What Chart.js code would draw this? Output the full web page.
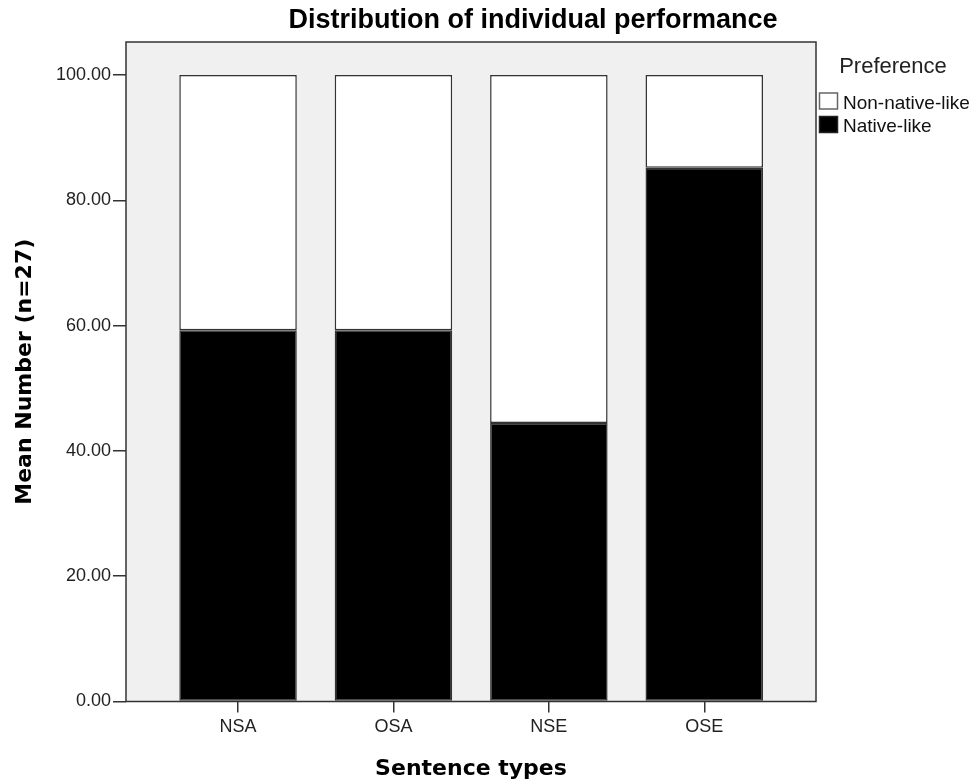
<!DOCTYPE html>
<html>
<head>
<meta charset="utf-8">
<script src="https://cdn.jsdelivr.net/npm/chart.js@4/dist/chart.umd.min.js"></script>
<style>
html,body{margin:0;padding:0;background:#fff;}
#wrap{width:971px;height:784px;position:relative;}
</style>
</head>
<body>
<div id="wrap"><canvas id="c"></canvas></div>
<script>
const categories = ['NSA', 'OSA', 'NSE', 'OSE'];
const nativeLike = [59.26, 59.26, 44.44, 85.19];
const nonNativeLike = [40.74, 40.74, 55.56, 14.81];
const yTicks = [0, 20, 40, 60, 80, 100];
const seriesNames = ['Native-like', 'Non-native-like'];
const chartTitle = 'Distribution of individual performance';
const legendTitle = 'Preference';
const xTitle = 'Sentence types';
const yTitle = 'Mean Number (n=27)';

const toPoints = arr => arr.map((v, i) => ({x: i + 1, y: v}));

const framePlugin = {
  id: 'frame',
  beforeDatasetsDraw(chart) {
    const {ctx, chartArea: a} = chart;
    ctx.save();
    ctx.fillStyle = '#f0f0f0';
    ctx.fillRect(a.left, a.top, a.right - a.left, a.bottom - a.top);
    ctx.restore();
  },
  afterDatasetsDraw(chart) {
    const {ctx, chartArea: a} = chart;
    ctx.save();
    ctx.strokeStyle = '#333';
    ctx.lineWidth = 1.5;
    ctx.strokeRect(a.left, a.top, a.right - a.left, a.bottom - a.top);
    ctx.restore();
  },
  afterDraw(chart) {
    const {ctx} = chart;
    ctx.save();
    ctx.fillStyle = '#000';
    ctx.font = 'bold 27px "Liberation Sans", Arial, sans-serif';
    ctx.textAlign = 'center';
    ctx.textBaseline = 'alphabetic';
    ctx.fillText(chartTitle, 533, 28);
    ctx.font = '22px "Liberation Sans", Arial, sans-serif';
    ctx.fillStyle = '#222';
    ctx.fillText(legendTitle, 893, 73);
    ctx.textAlign = 'left';
    ctx.font = '19px "Liberation Sans", Arial, sans-serif';
    const items = [
      {label: seriesNames[1], fill: '#ffffff', stroke: '#666', y: 93},
      {label: seriesNames[0], fill: '#000000', stroke: '#222', y: 116.5}
    ];
    items.forEach(it => {
      ctx.fillStyle = it.fill;
      ctx.fillRect(819.5, it.y, 18, 16);
      ctx.strokeStyle = it.stroke;
      ctx.lineWidth = 1.5;
      ctx.strokeRect(819.5, it.y, 18, 16);
      ctx.fillStyle = '#111';
      ctx.fillText(it.label, 843, it.y + 15.5);
    });
    ctx.restore();
  }
};

new Chart(document.getElementById('c'), {
  type: 'bar',
  data: {
    datasets: [
      {
        label: seriesNames[0],
        data: toPoints(nativeLike),
        backgroundColor: '#000000',
        borderColor: '#333333',
        borderWidth: 1.5,
        borderSkipped: false
      },
      {
        label: seriesNames[1],
        data: toPoints(nonNativeLike),
        backgroundColor: '#ffffff',
        borderColor: '#333333',
        borderWidth: 1.5,
        borderSkipped: false
      }
    ]
  },
  options: {
    responsive: true,
    maintainAspectRatio: false,
    animation: false,
    layout: {padding: {top: 42, right: 155, bottom: 0, left: 0}},
    datasets: {bar: {barPercentage: 0.756, categoryPercentage: 1}},
    plugins: {
      legend: {display: false},
      title: {display: false},
      tooltip: {enabled: false}
    },
    scales: {
      x: {
        type: 'linear',
        stacked: true,
        offset: false,
        min: 0.279,
        max: 4.719,
        afterFit(s) { s.height = 82.5; },
        afterBuildTicks(s) { s.ticks = categories.map((c, i) => ({value: i + 1})); },
        ticks: {
          color: '#222',
          padding: 4,
          maxRotation: 0,
          autoSkip: false,
          font: {family: '"Liberation Sans", Arial, sans-serif', size: 18},
          callback: v => categories[Math.round(v) - 1]
        },
        grid: {offset: false, drawOnChartArea: false, drawTicks: true, tickLength: 11, color: '#333', lineWidth: 1.5},
        border: {display: false},
        title: {
          display: true,
          text: xTitle,
          color: '#000',
          font: {family: '"DejaVu Sans", sans-serif', size: 22, weight: 'bold'},
          padding: {top: 0, bottom: 2}
        }
      },
      y: {
        stacked: true,
        min: 0,
        max: 105.27,
        afterFit(s) { s.width = 126; },
        afterBuildTicks(s) { s.ticks = yTicks.map(v => ({value: v})); },
        ticks: {
          color: '#222',
          padding: 2,
          font: {family: '"Liberation Sans", Arial, sans-serif', size: 18},
          callback: v => Number(v).toFixed(2)
        },
        grid: {drawOnChartArea: false, drawTicks: true, tickLength: 13, color: '#333', lineWidth: 1.5},
        border: {display: false},
        title: {
          display: true,
          text: yTitle,
          color: '#000',
          font: {family: '"DejaVu Sans", sans-serif', size: 22, weight: 'bold'},
          padding: {top: 12, bottom: 0}
        }
      }
    }
  },
  plugins: [framePlugin]
});
</script>
</body>
</html>
